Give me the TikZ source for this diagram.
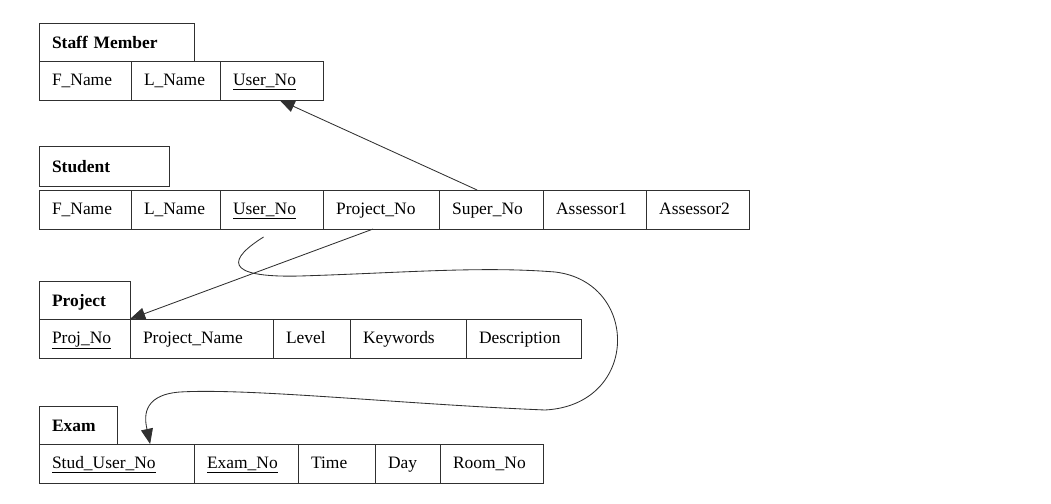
\documentclass[tikz,border=0pt]{standalone}
\usepackage{fontspec}
\setmainfont{Liberation Serif}
\usepackage{tikz}
\usetikzlibrary{positioning,arrows.meta}
\definecolor{ink}{HTML}{303030}

\begin{document}
\begin{tikzpicture}[x=0.025cm, y=-0.025cm,
  font=\fontsize{12.4}{15}\selectfont,
  hd/.style={draw=ink, line width=0.6pt, outer sep=0pt, anchor=north west,
             text width=#1, inner xsep=3.25mm, minimum height=9.5mm,
             text height=9pt, text depth=0pt,
             font=\fontsize{12.4}{15}\selectfont\bfseries},
  cl/.style={draw=ink, line width=0.6pt, outer sep=0pt, text width=#1,
             inner xsep=3.25mm, minimum height=9.75mm,
             text height=9pt, text depth=2.5pt},
  arr/.style={-{Triangle[length=3.8mm,width=3mm]}, line width=0.6pt,
              color=ink}]
  \useasboundingbox (0,0) rectangle (1051,504);

  % Staff Member
  \node[hd=3.225cm] (sm) at (39,23) {Staff Member};
  \node[cl=1.65cm, anchor=north west] (sm1) at (sm.south west) {F\_Name};
  \node[cl=1.575cm, right=0pt of sm1] (sm2) {L\_Name};
  \node[cl=1.925cm, right=0pt of sm2] (sm3) {\underline{User\_No}};

  % Student
  \node[hd=2.6cm, minimum height=10mm] (st) at (39,146) {Student};
  \node[cl=1.65cm, anchor=north west] (st1) at ([yshift=-1mm]st.south west) {F\_Name};
  \node[cl=1.575cm, right=0pt of st1] (st2) {L\_Name};
  \node[cl=1.925cm, right=0pt of st2] (st3) {\underline{User\_No}};
  \node[cl=2.25cm,  right=0pt of st3] (st4) {Project\_No};
  \node[cl=1.95cm,  right=0pt of st4] (st5) {Super\_No};
  \node[cl=1.925cm, right=0pt of st5] (st6) {Assessor1};
  \node[cl=1.925cm, right=0pt of st6] (st7) {Assessor2};

  % Project
  \node[hd=1.625cm] (pr) at (39,281) {Project};
  \node[cl=1.625cm, anchor=north west] (pr1) at (pr.south west) {\underline{Proj\_No}};
  \node[cl=2.925cm, right=0pt of pr1] (pr2) {Project\_Name};
  \node[cl=1.275cm, right=0pt of pr2] (pr3) {Level};
  \node[cl=2.25cm,  right=0pt of pr3] (pr4) {Keywords};
  \node[cl=2.225cm, right=0pt of pr4] (pr5) {Description};

  % Exam
  \node[hd=1.3cm] (ex) at (39,406) {Exam};
  \node[cl=3.225cm, anchor=north west] (ex1) at (ex.south west) {\underline{Stud\_User\_No}};
  \node[cl=1.95cm,  right=0pt of ex1] (ex2) {\underline{Exam\_No}};
  \node[cl=1.275cm, right=0pt of ex2] (ex3) {Time};
  \node[cl=0.975cm, right=0pt of ex3] (ex4) {Day};
  \node[cl=1.925cm, right=0pt of ex4] (ex5) {Room\_No};

  % keys
  \draw[arr] ([xshift=-3.5mm]st5.north) -- ([xshift=2mm]sm3.south);
  \draw[arr] ([xshift=-2mm]st4.south) -- (pr1.north east);
  \draw[arr] ([xshift=-2mm,yshift=-2mm]st3.south)
    .. controls (230,258) and (220,278) .. (300,276)
    .. controls (400,273) and (480,266) .. (555,272)
    .. controls (640,282) and (640,405) .. (545,410)
    .. controls (400,404) and (250,388) .. (180,392)
    .. controls (140,395) and (145,420) .. ([xshift=8.4mm]ex1.north);
\end{tikzpicture}
\end{document}
